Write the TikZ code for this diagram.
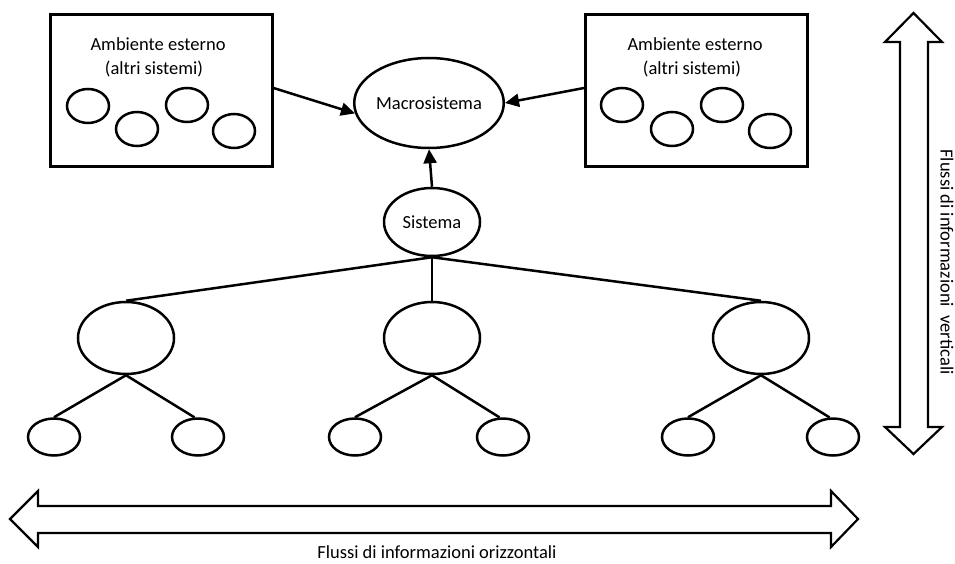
\documentclass[tikz,border=0pt]{standalone}
\usepackage{fontspec}
\setmainfont{Carlito}
\usetikzlibrary{shapes.geometric,arrows.meta}
\tikzset{
  oval/.style={ellipse, draw, line width=2.5pt, inner sep=0pt},
  smalloval/.style={oval, minimum width=42pt, minimum height=34pt},
  leafoval/.style={oval, minimum width=52pt, minimum height=37pt},
  branchoval/.style={oval, minimum width=96pt, minimum height=72pt},
  envbox/.style={rectangle, draw, line width=3pt, minimum width=222pt, minimum height=152pt, inner sep=0pt},
  lbl/.style={font=\fontsize{18.5}{22}\selectfont, inner sep=0pt},
  link/.style={line width=2.5pt},
  arr/.style={line width=2.5pt, -{Triangle[length=14pt,width=13pt]}},
  flow/.style={line width=2.2pt, line join=miter, fill=white}
}
\begin{document}
\begin{tikzpicture}[x=1pt,y=-1pt]
\useasboundingbox (0,0) rectangle (955,564);

% external environment, left
\node[envbox] (lbox) at (161,91) {};
\node[lbl] (ltxt1) at (158,44) {Ambiente esterno};
\node[lbl] (ltxt2) at (154,69) {(altri sistemi)};
\node[smalloval] (le1) at (88,106) {};
\node[smalloval] (le2) at (137,129) {};
\node[smalloval] (le3) at (187,105) {};
\node[smalloval] (le4) at (234,131) {};

% external environment, right
\node[envbox] (rbox) at (696.5,91) {};
\node[lbl] (rtxt1) at (695,44) {Ambiente esterno};
\node[lbl] (rtxt2) at (692,69) {(altri sistemi)};
\node[smalloval] (re1) at (622,105) {};
\node[smalloval] (re2) at (672,129) {};
\node[smalloval] (re3) at (722,105) {};
\node[smalloval] (re4) at (770,131) {};

% macro system and system
\node[oval, minimum width=124pt, minimum height=90pt, lbl] (macro) at (429,103) {Macrosistema};
\node[oval, minimum width=96pt, minimum height=68pt, lbl] (sis) at (432,222) {Sistema};

\draw[arr] ([yshift=3pt]lbox.east) -- (macro.188);
\draw[arr] ([yshift=3pt]rbox.west) -- (macro.east);
\draw[arr] (sis.north) -- (macro.south);

% subsystems
\node[branchoval] (b1) at (126,338) {};
\node[branchoval] (b2) at (432,338) {};
\node[branchoval] (b3) at (761,338) {};

\node[leafoval] (c11) at (54,437) {};
\node[leafoval] (c12) at (198,437) {};
\node[leafoval] (c21) at (355,437) {};
\node[leafoval] (c22) at (503,437) {};
\node[leafoval] (c31) at (688,437) {};
\node[leafoval] (c32) at (833,437) {};

\draw[link] (sis.south) -- (b1.north);
\draw[link] (sis.south) -- (b2.north);
\draw[link] (sis.south) -- (b3.north);

\draw[link] (b1.south) -- (c11.north);
\draw[link] (b1.south) -- (c12.100);
\draw[link] (b2.south) -- (c21.north);
\draw[link] (b2.south) -- (c22.100);
\draw[link] (b3.south) -- (c31.north);
\draw[link] (b3.south) -- (c32.100);

% horizontal information flow
\draw[flow] (10,519) -- (38,491) -- (38,506) -- (831,506) -- (831,491) -- (858,519)
  -- (831,547) -- (831,533) -- (38,533) -- (38,547) -- cycle;
\node[lbl] (htxt) at (437,552) {Flussi di informazioni orizzontali};

% vertical information flow
\draw[flow] (913.5,13) -- (942,42) -- (928,42) -- (928,427) -- (942,427) -- (913.5,454)
  -- (885,427) -- (900,427) -- (900,42) -- (885,42) -- cycle;
\node[lbl, rotate=-90] (vtxt) at (947,262) {Flussi di informazioni\ \ verticali};
\end{tikzpicture}
\end{document}
